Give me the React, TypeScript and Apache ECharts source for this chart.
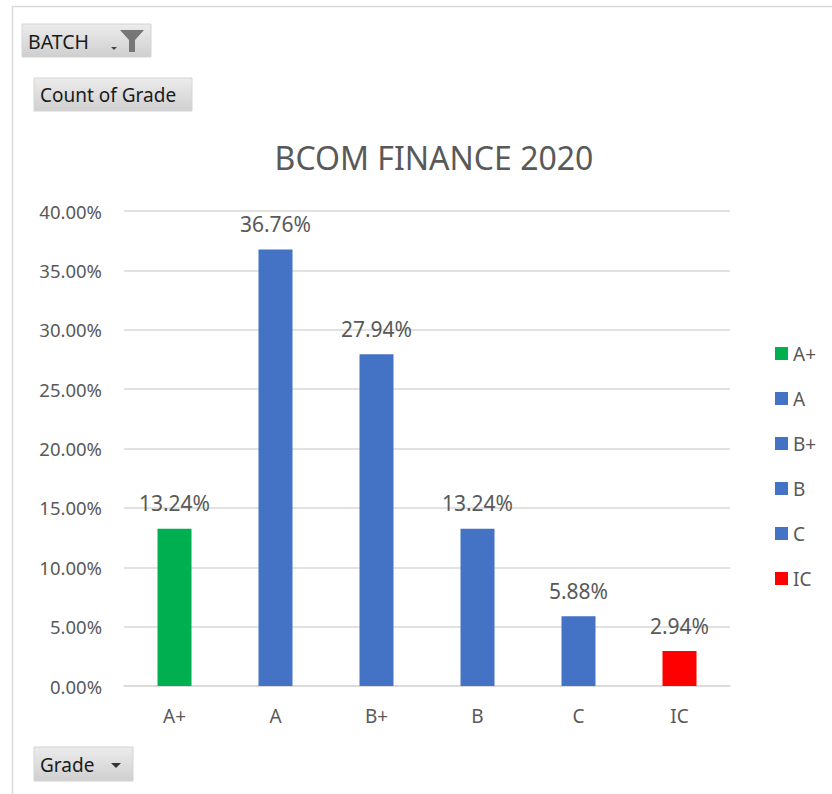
import React, { useEffect, useRef } from "react";
import * as echarts from "echarts";

const categories = ["A+", "A", "B+", "B", "C", "IC"];
const values = [0.1324, 0.3676, 0.2794, 0.1324, 0.0588, 0.0294];
const colors = ["#00b050", "#4472c4", "#4472c4", "#4472c4", "#4472c4", "#ff0000"];
const yTicks = { min: 0, max: 0.4, interval: 0.05 };
const titleText = "BCOM FINANCE 2020";

const FONT = "'Noto Sans', sans-serif";
const TXT = "#595959";

const btnFill = new echarts.graphic.LinearGradient(0, 0, 0, 1, [
  { offset: 0, color: "#ececec" },
  { offset: 1, color: "#cfcfcf" },
]);

export default function App() {
  const ref = useRef<HTMLDivElement>(null);
  useEffect(() => {
    document.body.style.margin = "0";
    const chart = echarts.init(ref.current!, null, { renderer: "svg" });
    const series = categories.map((c, i) => ({
      name: c,
      type: "bar",
      stack: "all",
      barWidth: 34,
      data: categories.map((_, j) => (j === i ? values[i] : "-")),
      itemStyle: { color: colors[i] },
      label: {
        show: true,
        position: "top",
        distance: 15,
        color: TXT,
        fontSize: 21,
        fontFamily: FONT,
        formatter: (p: any) => (p.value * 100).toFixed(2) + "%",
      },
    }));
    chart.setOption({
      animation: false,
      backgroundColor: "#ffffff",
      title: {
        text: titleText,
        left: 429,
        top: 136,
        textAlign: "center",
        textStyle: { color: TXT, fontSize: 32, fontWeight: "normal", fontFamily: FONT },
      },
      legend: {
        orient: "vertical",
        left: 770,
        top: 339,
        itemWidth: 13,
        itemHeight: 13,
        itemGap: 26,
        icon: "rect",
        textStyle: { color: TXT, fontSize: 19, fontFamily: FONT },
        data: categories,
      },
      grid: { left: 124, right: 102, top: 211, bottom: 108, containLabel: false },
      xAxis: {
        type: "category",
        data: categories,
        axisTick: { show: false },
        axisLine: { lineStyle: { color: "#d9d9d9", width: 1.5 } },
        axisLabel: { color: TXT, fontSize: 19, fontFamily: FONT, margin: 20 },
      },
      yAxis: {
        type: "value",
        min: yTicks.min,
        max: yTicks.max,
        interval: yTicks.interval,
        axisLine: { show: false },
        axisTick: { show: false },
        splitLine: { lineStyle: { color: "#d9d9d9", width: 1.5 } },
        axisLabel: {
          color: TXT,
          fontSize: 18.5,
          fontFamily: FONT,
          margin: 22,
          formatter: (v: number) => (v * 100).toFixed(2) + "%",
        },
      },
      series,
      graphic: [
        {
          type: "rect",
          shape: { x: 12.5, y: 6.5, width: 840, height: 800 },
          style: { fill: "none", stroke: "#d9d9d9", lineWidth: 1.5 },
          silent: true,
        },
        {
          type: "rect",
          shape: { x: 22, y: 24, width: 129, height: 33 },
          style: { fill: btnFill, stroke: "#d4d4d4" },
        },
        {
          type: "text",
          x: 28,
          y: 41,
          style: { text: "BATCH", fill: "#1a1a1a", fontSize: 19.5, fontFamily: FONT, verticalAlign: "middle" },
        },
        {
          type: "polygon",
          shape: { points: [[111, 47], [117, 47], [114, 50]] },
          style: { fill: "#444444" },
        },
        {
          type: "polygon",
          shape: { points: [[120, 30], [144, 30], [135, 40], [135, 52], [129, 52], [129, 40]] },
          style: { fill: "#777777" },
        },
        {
          type: "rect",
          shape: { x: 34, y: 78, width: 158, height: 33 },
          style: { fill: btnFill, stroke: "#d4d4d4" },
        },
        {
          type: "text",
          x: 40,
          y: 95,
          style: { text: "Count of Grade", fill: "#1a1a1a", fontSize: 19, fontFamily: FONT, verticalAlign: "middle" },
        },
        {
          type: "rect",
          shape: { x: 34, y: 747, width: 99, height: 34 },
          style: { fill: btnFill, stroke: "#d4d4d4" },
        },
        {
          type: "text",
          x: 40,
          y: 765,
          style: { text: "Grade", fill: "#1a1a1a", fontSize: 19, fontFamily: FONT, verticalAlign: "middle" },
        },
        {
          type: "polygon",
          shape: { points: [[111, 763], [121, 763], [116, 768]] },
          style: { fill: "#333333" },
        },
      ],
    });
    return () => chart.dispose();
  }, []);
  return <div ref={ref} style={{ width: 832, height: 794 }} />;
}
